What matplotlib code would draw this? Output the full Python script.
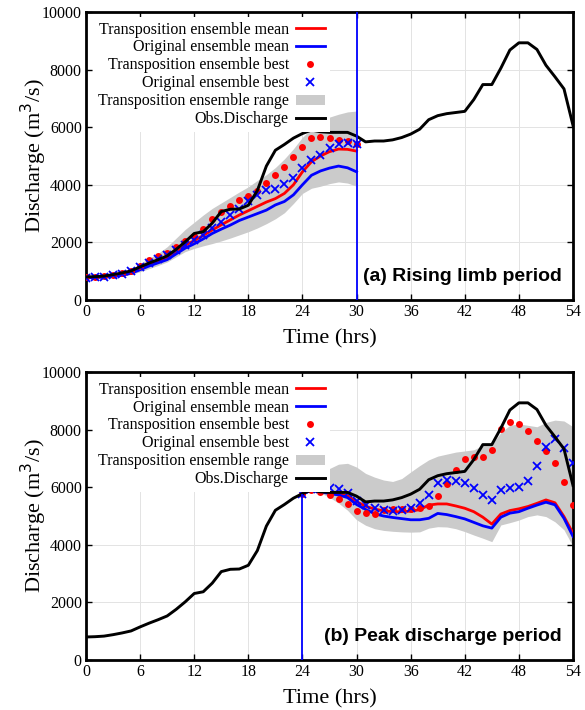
import matplotlib
matplotlib.use("Agg")
import matplotlib.pyplot as plt
from matplotlib.patches import Patch
from matplotlib.lines import Line2D
import numpy as np

# hourly time axis
hours = np.arange(0, 55)

# observed discharge (m3/s), hours 0-54
obs_q = [800, 810, 830, 880, 940, 1010, 1150, 1280, 1400, 1530,
         1760, 2020, 2310, 2370, 2670, 3070, 3150, 3160, 3290, 3800,
         4650, 5200, 5400, 5620, 5780, 5900, 5840, 5820, 5820, 5820,
         5690, 5490, 5520, 5520, 5560, 5640, 5760, 5930, 6260, 6400,
         6470, 6510, 6550, 6960, 7480, 7480, 8050, 8680, 8930, 8930,
         8700, 8150, 7750, 7330, 6060]

# (a) rising limb period, hours 0-30
hrs_a = np.arange(0, 31)
trans_mean_a = [780, 790, 805, 830, 870, 940, 1080, 1220, 1340, 1450,
                1650, 1900, 2060, 2240, 2430, 2610, 2780, 2950, 3100, 3250,
                3400, 3520, 3700, 4000, 4450, 4800, 5000, 5150, 5240, 5230,
                5170]
orig_mean_a = [770, 780, 795, 820, 860, 925, 1050, 1180, 1290, 1400,
               1600, 1800, 1950, 2120, 2310, 2460, 2600, 2760, 2880, 3000,
               3120, 3300, 3420, 3650, 4000, 4330, 4480, 4580, 4650, 4590,
               4450]
trans_best_a = [790, 810, 830, 870, 925, 1020, 1180, 1390, 1510, 1630,
                1830, 2040, 2210, 2450, 2810, 3070, 3280, 3470, 3600, 3800,
                4070, 4340, 4630, 4980, 5320, 5610, 5660, 5620, 5560, 5520,
                5410]
orig_best_a = [780, 790, 810, 850, 890, 990, 1130, 1300, 1430, 1560,
               1720, 1900, 2080, 2250, 2490, 2710, 2950, 3170, 3430, 3650,
               3820, 3860, 4010, 4220, 4580, 4850, 5030, 5260, 5430, 5440,
               5400]
range_lo_a = [740, 750, 760, 790, 830, 890, 980, 1090, 1200, 1320,
              1500, 1680, 1790, 1880, 1960, 2050, 2150, 2260, 2370, 2500,
              2650, 2820, 3030, 3350, 3700, 3880, 3950, 4040, 4100, 4060,
              3950]
range_hi_a = [830, 850, 870, 910, 970, 1070, 1260, 1450, 1620, 1850,
              2150, 2450, 2700, 2950, 3180, 3370, 3560, 3750, 3930, 4150,
              4350, 4600, 4900, 5250, 5650, 5950, 6200, 6350, 6450, 6530,
              6560]

# (b) peak discharge period, hours 24-54
hrs_b = np.arange(24, 55)
trans_mean_b = [5760, 5940, 5870, 5810, 5760, 5700, 5500, 5340, 5240, 5180,
                5150, 5150, 5170, 5220, 5380, 5420, 5420, 5350, 5270, 5150,
                4960, 4720, 5070, 5190, 5250, 5330, 5440, 5560, 5460, 4980,
                4400]
orig_mean_b = [5750, 5920, 5840, 5780, 5730, 5640, 5400, 5230, 5080, 5000,
               4950, 4910, 4870, 4870, 4920, 5090, 5050, 4980, 4900, 4780,
               4660, 4580, 4960, 5100, 5150, 5270, 5380, 5480, 5390, 4920,
               4290]
trans_best_b = [5750, 5900, 5850, 5720, 5600, 5410, 5180, 5100, 5080, 5200,
                5260, 5240, 5250, 5280, 5360, 5710, 6100, 6600, 6970, 7060,
                7060, 7290, 8010, 8270, 8190, 7950, 7610, 7250, 6850, 6190,
                5380]
orig_best_b = [5780, 5950, 5950, 5980, 5950, 5790, 5530, 5390, 5270, 5210,
               5190, 5210, 5280, 5450, 5740, 6130, 6250, 6230, 6130, 5980,
               5730, 5560, 5900, 5960, 6000, 6220, 6750, 7380, 7670, 7360,
               6830]
range_lo_b = [5700, 5880, 5800, 5650, 5450, 5200, 4870, 4680, 4560, 4500,
              4470, 4450, 4440, 4450, 4580, 4630, 4620, 4560, 4460, 4340,
              4230, 4110, 4690, 4770, 4860, 4980, 5040, 4980, 4800, 4520,
              3940]
range_hi_b = [5850, 6050, 6350, 6650, 6800, 6830, 6700, 6480, 6350, 6250,
              6200, 6300, 6530, 6750, 6950, 7080, 7150, 7220, 7260, 7300,
              7450, 7480, 7900, 8150, 8200, 8150, 8100, 8250, 8330, 8300,
              8100]

SERIF = "Liberation Serif"
SANS = "Liberation Sans"

labels = ["Transposition ensemble mean", "Original ensemble mean",
          "Transposition ensemble best", "Original ensemble best",
          "Transposition ensemble range", "Obs.Discharge"]

BAND = "#cbcbcb"


def draw_panel(ax, hrs, t_mean, o_mean, t_best, o_best, lo, hi, split_hr, full_line, tag):
    ax.fill_between(hrs, lo, hi, color=BAND, linewidth=0, zorder=1)
    ax.plot(hrs, t_mean, color="red", lw=2.0, zorder=3)
    ax.plot(hrs, o_mean, color="blue", lw=2.0, zorder=3)
    ax.plot(hrs, t_best, "o", color="red", ms=5.0, mew=0, zorder=4)
    ax.plot(hrs, o_best, "x", color="blue", ms=5.2, mew=1.3, zorder=4)
    ax.plot(hours, obs_q, color="black", lw=2.1, zorder=5)
    if full_line:
        ax.axvline(split_hr, color="blue", lw=1.3, zorder=6)
    else:
        ax.vlines(split_hr, 0, obs_q[split_hr], color="blue", lw=1.3, zorder=6)

    ax.set_xlim(0, 54)
    ax.set_ylim(0, 10000)
    ax.set_xticks(np.arange(0, 55, 6))
    ax.set_yticks(np.arange(0, 10001, 2000))
    ax.grid(True, color="#e3e3e3", lw=0.7)
    ax.set_axisbelow(True)
    ax.tick_params(direction="in", top=True, right=True, length=4, width=1,
                   labelsize=11.5, pad=3)
    for lab in ax.get_xticklabels() + ax.get_yticklabels():
        lab.set_family(SERIF)
    for sp in ax.spines.values():
        sp.set_linewidth(2.0)
    ax.set_xlabel("Time (hrs)", fontsize=16, family=SERIF, labelpad=6.5)
    ax.set_ylabel("Discharge (m$^3$/s)", fontsize=16, family=SERIF, labelpad=-5)

    handles = [Line2D([], [], color="red", lw=2.0),
               Line2D([], [], color="blue", lw=2.0),
               Line2D([], [], ls="none", marker="o", color="red", ms=5.0, mew=0),
               Line2D([], [], ls="none", marker="x", color="blue", ms=5.2, mew=1.3),
               Patch(facecolor=BAND, edgecolor="none"),
               Line2D([], [], color="black", lw=2.1)]
    leg = ax.legend(handles, labels, loc="upper right", bbox_to_anchor=(0.51, 1.0),
                    markerfirst=False, frameon=True, fancybox=False, framealpha=1,
                    facecolor="white", edgecolor="none", borderaxespad=0.3,
                    borderpad=0.3, labelspacing=0.12, handlelength=1.8,
                    handletextpad=0.45, handleheight=0.6,
                    prop={"family": SERIF, "size": 11.5})
    leg.set_zorder(7)

    ax.text(0.977, 0.08, tag, transform=ax.transAxes, ha="right", va="center",
            fontsize=14, fontweight="bold", family=SANS, zorder=8)


fig = plt.figure(figsize=(5.85, 7.1), dpi=100)
ax_a = fig.add_axes([0.147, 0.5775, 0.8325, 0.4056])
ax_b = fig.add_axes([0.147, 0.0704, 0.8325, 0.4056])

draw_panel(ax_a, hrs_a, trans_mean_a, orig_mean_a, trans_best_a, orig_best_a,
           range_lo_a, range_hi_a, 30, True, "(a) Rising limb period")
draw_panel(ax_b, hrs_b, trans_mean_b, orig_mean_b, trans_best_b, orig_best_b,
           range_lo_b, range_hi_b, 24, False, "(b) Peak discharge period")

fig.savefig("out.png", dpi=100)
